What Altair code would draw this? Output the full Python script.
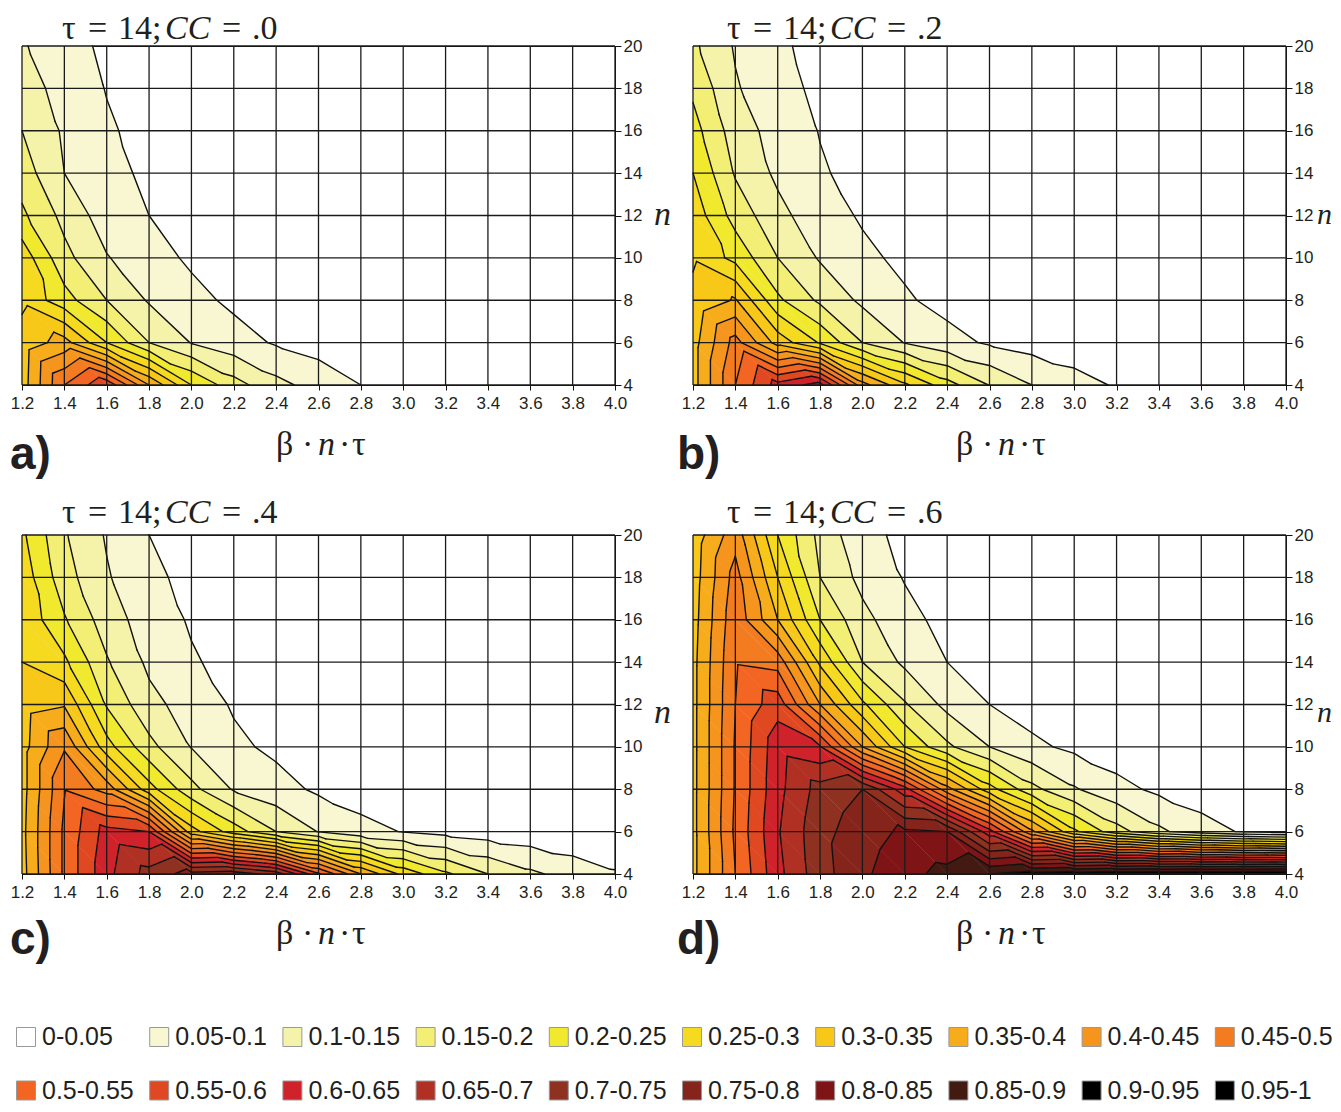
import altair as alt
import pandas as pd

X_TICKS = [1.2, 1.4, 1.6, 1.8, 2.0, 2.2, 2.4, 2.6, 2.8, 3.0, 3.2, 3.4, 3.6, 3.8, 4.0]
N_TICKS = [20, 18, 16, 14, 12, 10, 8, 6, 4]

# Surface values: one row per n (20 down to 4); columns continue along X_TICKS, the rest are 0
Z_A = [
    [.105, .07, .04, .03, .02, .01],
    [.125, .08, .048, .03, .02, .01],
    [.15, .093, .056, .035, .022, .01],
    [.175, .10, .066, .04, .025, .012],
    [.21, .135, .075, .05, .03, .015],
    [.28, .165, .103, .07, .042, .025, .01],
    [.29, .22, .15, .095, .065, .04, .025, .012],
    [.32, .37, .25, .15, .098, .07, .045, .03, .02, .01],
    [.325, .5, .59, .40, .25, .17, .115, .08, .05, .03, .015],
]
Z_B = [
    [.16, .095, .058, .035, .02, .01],
    [.19, .105, .066, .04, .025, .012],
    [.22, .125, .08, .048, .03, .018, .008],
    [.25, .145, .09, .055, .035, .02, .01],
    [.28, .18, .115, .07, .045, .025, .012],
    [.295, .235, .15, .095, .06, .04, .025, .012],
    [.31, .355, .21, .14, .09, .056, .035, .025, .012],
    [.33, .47, .33, .245, .15, .098, .066, .044, .03, .02, .01],
    [.33, .5, .62, .67, .42, .31, .22, .148, .1, .07, .045, .03, .015],
]
Z_C = [
    [.26, .155, .095, .05, .03, .018, .008],
    [.28, .17, .105, .06, .038, .022, .01],
    [.29, .205, .125, .075, .045, .028, .012],
    [.30, .26, .155, .09, .055, .035, .018, .008],
    [.325, .345, .195, .115, .078, .045, .028, .014],
    [.33, .445, .27, .165, .098, .06, .04, .028, .015],
    [.33, .497, .43, .27, .165, .095, .068, .042, .028, .015],
    [.335, .51, .62, .60, .32, .225, .15, .098, .065, .048, .035, .025, .018, .01, .005],
    [.33, .51, .635, .72, .77, .78, .73, .56, .40, .285, .21, .15, .11, .08, .055],
]
Z_D = [
    [.32, .43, .25, .135, .063, .04, .022, .01],
    [.325, .47, .30, .15, .085, .047, .03, .015],
    [.33, .485, .35, .20, .115, .065, .035, .02, .01],
    [.335, .495, .48, .29, .15, .09, .05, .03, .018, .008],
    [.335, .50, .58, .40, .26, .155, .085, .05, .03, .018, .008],
    [.335, .505, .63, .605, .40, .25, .16, .10, .06, .04, .024, .012],
    [.335, .505, .635, .72, .75, .62, .42, .27, .165, .105, .065, .04, .025, .012],
    [.335, .51, .645, .735, .775, .81, .80, .62, .41, .26, .17, .11, .07, .045, .03],
    [.335, .50, .635, .73, .79, .835, .865, .90, .92, .93, .94, .945, .95, .955, .96],
]

BAND_LABELS = ["0-0.05", "0.05-0.1", "0.1-0.15", "0.15-0.2", "0.2-0.25", "0.25-0.3", "0.3-0.35",
               "0.35-0.4", "0.4-0.45", "0.45-0.5", "0.5-0.55", "0.55-0.6", "0.6-0.65", "0.65-0.7",
               "0.7-0.75", "0.75-0.8", "0.8-0.85", "0.85-0.9", "0.9-0.95", "0.95-1"]
BAND_COLORS = ["#ffffff", "#f9f7d2", "#f5f2a9", "#f3ee74", "#f0e92e", "#f5da20", "#f7c818", "#f7ad1b",
               "#f5951e", "#f47c20", "#f26522", "#e04822", "#d0222a", "#b13024", "#8f3120", "#85241b",
               "#7f1416", "#431a12", "#000000", "#000000"]


def clip(poly, level, keep_above):
    out = []
    for i in range(len(poly)):
        a, b = poly[i], poly[(i + 1) % len(poly)]
        ina = a[2] >= level if keep_above else a[2] <= level
        inb = b[2] >= level if keep_above else b[2] <= level
        if ina:
            out.append(a)
        if ina != inb:
            t = (level - a[2]) / (b[2] - a[2])
            out.append((a[0] + t * (b[0] - a[0]), a[1] + t * (b[1] - a[1]), level))
    return out


def triangles(rows):
    full = [r + [0.0] * (len(X_TICKS) - len(r)) for r in rows]
    for j in range(len(N_TICKS) - 1):
        for i in range(len(X_TICKS) - 1):
            tl = (X_TICKS[i], N_TICKS[j], full[j][i])
            tr = (X_TICKS[i + 1], N_TICKS[j], full[j][i + 1])
            bl = (X_TICKS[i], N_TICKS[j + 1], full[j + 1][i])
            br = (X_TICKS[i + 1], N_TICKS[j + 1], full[j + 1][i + 1])
            yield (tl, tr, br)
            yield (tl, br, bl)


def surface_tables(rows):
    polys, segs = [], []
    pid = 0
    for tri in triangles(rows):
        for b in range(1, 20):
            lo, hi = b * 0.05, (b + 1) * 0.05
            p = clip(clip(list(tri), lo, True), hi, False)
            if len(p) >= 3:
                for k, v in enumerate(p):
                    polys.append({"pid": pid, "k": k, "x": v[0], "y": v[1], "c": BAND_COLORS[b]})
                pid += 1
        for b in range(1, 20):
            lev = b * 0.05 + 1e-7
            pts = []
            for i in range(3):
                a, c = tri[i], tri[(i + 1) % 3]
                if (a[2] >= lev) != (c[2] >= lev):
                    t = (lev - a[2]) / (c[2] - a[2])
                    pts.append((a[0] + t * (c[0] - a[0]), a[1] + t * (c[1] - a[1])))
            if len(pts) == 2:
                segs.append({"x": pts[0][0], "y": pts[0][1], "x2": pts[1][0], "y2": pts[1][1]})
    return pd.DataFrame(polys), pd.DataFrame(segs)


SERIF = "Liberation Serif"
SANS = "Liberation Sans"


def note(txt, px, py, size=34, font=SERIF, style="normal", weight="normal", align="left"):
    return alt.Chart(pd.DataFrame({"t": [txt]})).mark_text(
        align=align, baseline="middle", fontSize=size, font=font, fontStyle=style,
        fontWeight=weight, color="#231f20"
    ).encode(x=alt.value(px), y=alt.value(py), text="t:N")


def panel(rows, cc, letter, dx_title, dy_title, dx_lab, nx, ny, lx, ly, nsize=34):
    polys, segs = surface_tables(rows)
    xs = alt.Scale(domain=[1.2, 4.0], nice=False, zero=False)
    ys = alt.Scale(domain=[4, 20], nice=False, zero=False)
    xax = alt.Axis(values=X_TICKS, format=".1f", title=None, grid=False, tickColor="#111", tickSize=5,
                   domainColor="#111", labelFont=SANS, labelFontSize=17, labelColor="#231f20",
                   labelPadding=5, labelFlush=False, labelOverlap=False)
    yax = alt.Axis(values=N_TICKS, orient="right", title=None, grid=False, tickColor="#111", tickSize=6,
                   domainColor="#111", labelFont=SANS, labelFontSize=17, labelColor="#231f20",
                   labelPadding=2, labelOverlap=False, labelFlush=False)
    fill = alt.Chart(polys).mark_line(strokeWidth=0.6, interpolate="linear", clip=True).encode(
        x=alt.X("x:Q", scale=xs, axis=xax),
        y=alt.Y("y:Q", scale=ys, axis=yax),
        detail="pid:N",
        order="k:Q",
        fill=alt.Fill("c:N", scale=None),
        stroke=alt.Stroke("c:N", scale=None),
    )
    lines = alt.Chart(segs).mark_rule(color="#111", strokeWidth=1.4, strokeCap="round").encode(
        x=alt.X("x:Q", scale=xs), y=alt.Y("y:Q", scale=ys), x2="x2:Q", y2="y2:Q"
    )
    vgrid = alt.Chart(pd.DataFrame({"v": X_TICKS})).mark_rule(color="#1a1a1a", strokeWidth=1.3).encode(
        x=alt.X("v:Q", scale=xs))
    hgrid = alt.Chart(pd.DataFrame({"v": N_TICKS})).mark_rule(color="#1a1a1a", strokeWidth=1.3).encode(
        y=alt.Y("v:Q", scale=ys))
    notes = [
        note("τ", dx_title, dy_title), note("=", dx_title + 26, dy_title),
        note("14;", dx_title + 56, dy_title),
        note("CC", dx_title + 103, dy_title, style="italic"), note("=", dx_title + 160, dy_title),
        note(cc, dx_title + 190, dy_title),
        note("β", dx_lab, 399), note("·", dx_lab + 26, 399), note("n", dx_lab + 42, 399, style="italic"),
        note("·", dx_lab + 63, 399), note("τ", dx_lab + 76, 399),
        note("n", nx, ny, size=nsize, style="italic"),
        note(letter, lx, ly, size=46, font=SANS, weight="bold"),
    ]
    return alt.layer(fill, lines, vgrid, hgrid, *notes).properties(width=593, height=339)


a = panel(Z_A, ".0", "a)", 40, -17, 254, 632, 169, -12, 409)
b = panel(Z_B, ".2", "b)", 34, -17, 263, 624, 169, -16, 409, nsize=30)
c = panel(Z_C, ".4", "c)", 40, -22, 254, 632, 178, -12, 405)
d = panel(Z_D, ".6", "d)", 34, -22, 263, 624, 178, -16, 405, nsize=30)

legend_df = pd.DataFrame({
    "col": [i % 10 for i in range(20)],
    "row": [i // 10 for i in range(20)],
    "label": BAND_LABELS,
    "c": BAND_COLORS,
})
lx = alt.Scale(domain=[0, 10], range=[4, 1336])
ly = alt.Scale(domain=[0, 1], range=[13, 66.5])
sw = alt.Chart(legend_df).mark_square(size=360, strokeWidth=1, opacity=1).encode(
    x=alt.X("col:Q", scale=lx, axis=None),
    y=alt.Y("row:Q", scale=ly, axis=None),
    fill=alt.Fill("c:N", scale=None),
    stroke=alt.value("#999"),
)
tx = alt.Chart(legend_df).mark_text(align="left", baseline="middle", dx=16, fontSize=25, font=SANS,
                                    color="#231f20").encode(
    x=alt.X("col:Q", scale=lx, axis=None),
    y=alt.Y("row:Q", scale=ly, axis=None),
    text="label:N",
)
legend = alt.layer(sw, tx).properties(width=593, height=62, view=alt.ViewConfig(stroke=None))

chart = alt.concat(a, b, c, d, legend, columns=2, spacing={"column": 78, "row": 150}, bounds="flush",
                   padding={"left": 1, "top": 3, "right": 0, "bottom": 0}).configure_view(stroke="#111")
chart.save("out.html", embed_options={"renderer": "svg", "actions": False})
